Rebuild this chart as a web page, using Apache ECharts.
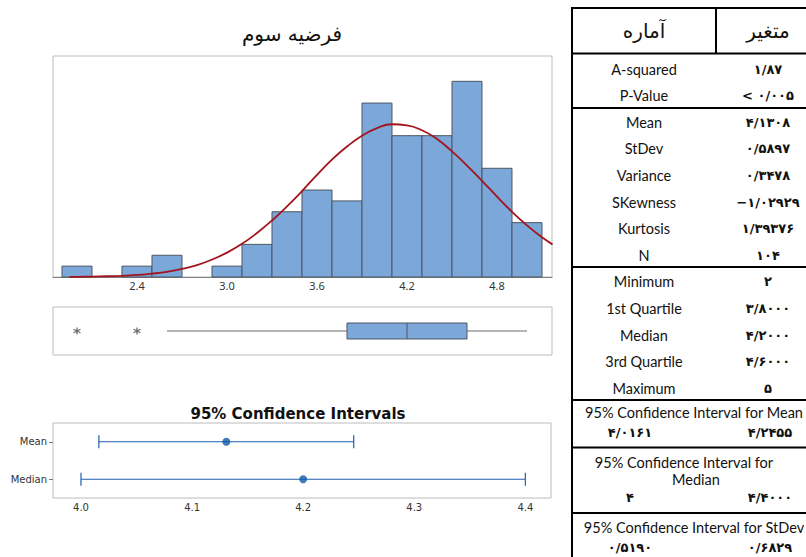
<!DOCTYPE html>
<html>
<head>
<meta charset="utf-8">
<script src="https://cdn.jsdelivr.net/npm/echarts@6/dist/echarts.min.js"></script>
<style>
html,body{margin:0;padding:0;background:#fff;}
#chart{width:806px;height:557px;}
</style>
</head>
<body>
<div id="chart"></div>
<script>
// ---------- DATA ----------
const chartTitle = 'فرضیه سوم';
const binCenters = [2.0, 2.2, 2.4, 2.6, 2.8, 3.0, 3.2, 3.4, 3.6, 3.8, 4.0, 4.2, 4.4, 4.6, 4.8, 5.0];
const binCounts  = [1, 0, 1, 2, 0, 1, 3, 6, 8, 7, 16, 13, 13, 18, 10, 5];
const binWidth = 0.2;
const histTicks = [2.4, 3.0, 3.6, 4.2, 4.8];
// fitted curve
const curveX = [1.95, 2.0, 2.1, 2.2, 2.3, 2.4, 2.5, 2.6, 2.7, 2.8, 2.9, 3.0, 3.1, 3.2, 3.3, 3.4, 3.5, 3.6, 3.7, 3.8, 3.9, 4.0, 4.1, 4.2, 4.3, 4.4, 4.5, 4.6, 4.7, 4.8, 4.9, 5.0, 5.1, 5.17];
const curveY = [0.02, 0.02, 0.04, 0.07, 0.11, 0.19, 0.31, 0.48, 0.74, 1.1, 1.6, 2.24, 3.05, 4.05, 5.2, 6.5, 7.9, 9.4, 10.8, 12.0, 13.0, 13.7, 14.05, 13.95, 13.5, 12.7, 11.55, 10.25, 8.85, 7.4, 6.0, 4.75, 3.65, 3.0];
// boxplot: whisker low, Q1, median, Q3, whisker high
const boxStats = [2.6, 3.8, 4.2, 4.6, 5.0];
const outliers = [2.0, 2.4];
// confidence intervals
const ciTitle = '95% Confidence Intervals';
const ciLabels = ['Mean', 'Median'];
const ciLower  = [4.0161, 4.0];
const ciCenter = [4.1308, 4.2];
const ciUpper  = [4.2455, 4.4];
const ciTicks  = [4.0, 4.1, 4.2, 4.3, 4.4];
// table
const tableHeader = ['آماره', 'متغیر'];
const statLabels = ['A-squared', 'P-Value', 'Mean', 'StDev', 'Variance', 'SKewness', 'Kurtosis', 'N',
                    'Minimum', '1st Quartile', 'Median', '3rd Quartile', 'Maximum'];
const statValues = ['۱/۸۷', '< ۰/۰۰۵', '۴/۱۳۰۸', '۰/۵۸۹۷', '۰/۳۴۷۸', '−۱/۰۲۹۲۹', '۱/۳۹۳۷۶', '۱۰۴',
                    '۲', '۳/۸۰۰۰', '۴/۲۰۰۰', '۴/۶۰۰۰', '۵'];
const intervalTitles = [['95% Confidence Interval for Mean'], ['95% Confidence Interval for', 'Median'], ['95% Confidence Interval for StDev']];
const intervalValues = [['۴/۰۱۶۱', '۴/۲۴۵۵'], ['۴', '۴/۴۰۰۰'], ['۰/۵۱۹۰', '۰/۶۸۲۹']];

// ---------- LAYOUT / STYLE ----------
const barFill = '#7ba7d9', barStroke = '#4d5663';
const frameColor = '#bcbcbc';
const ciColor = '#1f5fae';
const latin = 'Lato, "DejaVu Sans", sans-serif';
const persian = '"DejaVu Sans", sans-serif';

const chart = echarts.init(document.getElementById('chart'), null, {renderer: 'svg'});

// table graphics
const g = [];
const T = {left: 572, right: 820, mid: 716, top: 8, bottom: 557};
function hline(y, x1, x2) {
  g.push({type: 'line', shape: {x1: x1 == null ? T.left : x1, y1: y, x2: x2 == null ? T.right : x2, y2: y}, style: {stroke: '#000', lineWidth: 2}});
}
function vline(x, y1, y2) {
  g.push({type: 'line', shape: {x1: x, y1: y1, x2: x, y2: y2}, style: {stroke: '#000', lineWidth: 2}});
}
function txt(s, x, y, font) {
  g.push({type: 'text', style: {text: s, x: x, y: y, font: font, fill: '#111',
    textAlign: 'center', textVerticalAlign: 'middle', align: 'center', verticalAlign: 'middle'}});
}
hline(T.top, T.left - 1); vline(T.left, T.top - 1, T.bottom); vline(T.mid, T.top, 53.5);
[53.5, 108, 267, 400, 447.5, 513].forEach(y => hline(y));
const labelX = (T.left + T.mid) / 2, valueX = 768;
txt(tableHeader[0], labelX, 31, '20px ' + persian);
txt(tableHeader[1], valueX, 31, '20px ' + persian);
statLabels.forEach((s, i) => {
  const y = 69 + i * 26.6;
  txt(s, labelX, y, '14.5px ' + latin);
  txt(statValues[i], valueX, y, 'bold 13px ' + persian);
});
const ivTitleY = [[412], [462, 479], [527]];
const ivTitleX = [[694], [684, 696], [694]];
const ivValY = [432, 497.5, 547];
intervalTitles.forEach((lines, k) => {
  lines.forEach((s, j) => txt(s, ivTitleX[k][j], ivTitleY[k][j], '14.5px ' + latin));
  txt(intervalValues[k][0], 630, ivValY[k], 'bold 13px ' + persian);
  txt(intervalValues[k][1], 770, ivValY[k], 'bold 13px ' + persian);
});

const option = {
  backgroundColor: '#fff',
  animation: false,
  title: [
    {text: chartTitle, left: 287, top: 19, textAlign: 'center',
     textStyle: {fontFamily: persian, fontSize: 20, fontWeight: 'normal', color: '#111'}},
    {text: ciTitle, left: 293, top: 401, textAlign: 'center',
     textStyle: {fontFamily: '"DejaVu Sans", sans-serif', fontSize: 15, fontWeight: 'bold', color: '#111'}}
  ],
  grid: [
    {left: 53, top: 56, width: 499, height: 221, show: true, borderColor: frameColor, borderWidth: 1},
    {left: 53, top: 307, width: 499, height: 48, show: true, borderColor: frameColor, borderWidth: 1},
    {left: 53, top: 423, width: 498, height: 75, show: true, borderColor: frameColor, borderWidth: 1}
  ],
  xAxis: [
    {type: 'value', gridIndex: 0, min: 1.84, max: 5.1667,
     axisLine: {show: true, lineStyle: {color: '#808080', width: 1}},
     axisTick: {show: false}, splitLine: {show: false},
     axisLabel: {customValues: histTicks, formatter: v => v.toFixed(1), fontFamily: '"Noto Sans", sans-serif', fontSize: 11, color: '#333', margin: 3}},
    {type: 'value', gridIndex: 1, min: 1.84, max: 5.1667, show: false},
    {type: 'value', gridIndex: 2, min: 3.9748, max: 4.4231,
     axisLine: {show: false}, axisTick: {show: false}, splitLine: {show: false},
     axisLabel: {customValues: ciTicks, formatter: v => v.toFixed(1), fontFamily: '"DejaVu Sans", sans-serif', fontSize: 10, color: '#333', margin: 4}}
  ],
  yAxis: [
    {type: 'value', gridIndex: 0, min: 0, max: 20.33, show: false},
    {type: 'value', gridIndex: 1, min: 0, max: 1, show: false},
    {type: 'category', gridIndex: 2, data: ciLabels, inverse: true,
     axisLine: {show: false},
     axisTick: {show: true, alignWithLabel: true, length: 4, lineStyle: {color: '#777'}},
     axisLabel: {fontFamily: '"DejaVu Sans", sans-serif', fontSize: 10, color: '#333', margin: 6}}
  ],
  series: [
    {type: 'custom', xAxisIndex: 0, yAxisIndex: 0,
     data: binCenters.map((c, i) => [c, binCounts[i]]),
     renderItem: (params, api) => {
       const c = api.value(0), n = api.value(1);
       if (!n) return null;
       const p1 = api.coord([c - binWidth / 2, n]);
       const p2 = api.coord([c + binWidth / 2, 0]);
       return {type: 'rect', shape: {x: p1[0], y: p1[1], width: p2[0] - p1[0], height: p2[1] - p1[1]},
               style: {fill: barFill, stroke: barStroke, lineWidth: 1}};
     }},
    {type: 'line', xAxisIndex: 0, yAxisIndex: 0, smooth: true, showSymbol: false, symbol: 'none',
     data: curveX.map((x, i) => [x, curveY[i]]),
     lineStyle: {color: '#a3141c', width: 1.8}, z: 5},
    {type: 'custom', xAxisIndex: 1, yAxisIndex: 1, data: [boxStats],
     renderItem: (params, api) => {
       const v = [0, 1, 2, 3, 4].map(k => api.value(k));
       const yc = api.coord([v[0], 0.5])[1];
       const X = val => api.coord([val, 0.5])[0];
       const h = 8;
       return {type: 'group', children: [
         {type: 'line', shape: {x1: X(v[0]), y1: yc, x2: X(v[1]), y2: yc}, style: {stroke: '#9c9c9c', lineWidth: 1.5}},
         {type: 'line', shape: {x1: X(v[3]), y1: yc, x2: X(v[4]), y2: yc}, style: {stroke: '#9c9c9c', lineWidth: 1.5}},
         {type: 'rect', shape: {x: X(v[1]), y: yc - h, width: X(v[3]) - X(v[1]), height: 2 * h}, style: {fill: barFill, stroke: barStroke, lineWidth: 1}},
         {type: 'line', shape: {x1: X(v[2]), y1: yc - h, x2: X(v[2]), y2: yc + h}, style: {stroke: barStroke, lineWidth: 1}}
       ]};
     }},
    {type: 'scatter', xAxisIndex: 1, yAxisIndex: 1,
     data: outliers.map(v => [v, 0.5]),
     symbol: 'path://M5,0L5,10M0.67,2.5L9.33,7.5M0.67,7.5L9.33,2.5',
     symbolSize: 7,
     itemStyle: {color: 'rgba(0,0,0,0)', borderColor: '#444', borderWidth: 1.3}},
    {type: 'custom', xAxisIndex: 2, yAxisIndex: 2,
     data: ciLabels.map((l, i) => [ciLower[i], ciUpper[i], i]),
     encode: {x: [0, 1], y: 2},
     renderItem: (params, api) => {
       const a = api.coord([api.value(0), api.value(2)]);
       const b = api.coord([api.value(1), api.value(2)]);
       const h = 6.5;
       const st = {stroke: ciColor, lineWidth: 1.2};
       return {type: 'group', children: [
         {type: 'line', shape: {x1: a[0], y1: a[1], x2: b[0], y2: b[1]}, style: st},
         {type: 'line', shape: {x1: a[0], y1: a[1] - h, x2: a[0], y2: a[1] + h}, style: st},
         {type: 'line', shape: {x1: b[0], y1: b[1] - h, x2: b[0], y2: b[1] + h}, style: st}
       ]};
     }},
    {type: 'scatter', xAxisIndex: 2, yAxisIndex: 2,
     data: ciCenter.map((v, i) => [v, i]),
     symbol: 'circle', symbolSize: 8, itemStyle: {color: '#0d5aa7'}, z: 5}
  ],
  graphic: g
};
chart.setOption(option);
</script>
</body>
</html>
